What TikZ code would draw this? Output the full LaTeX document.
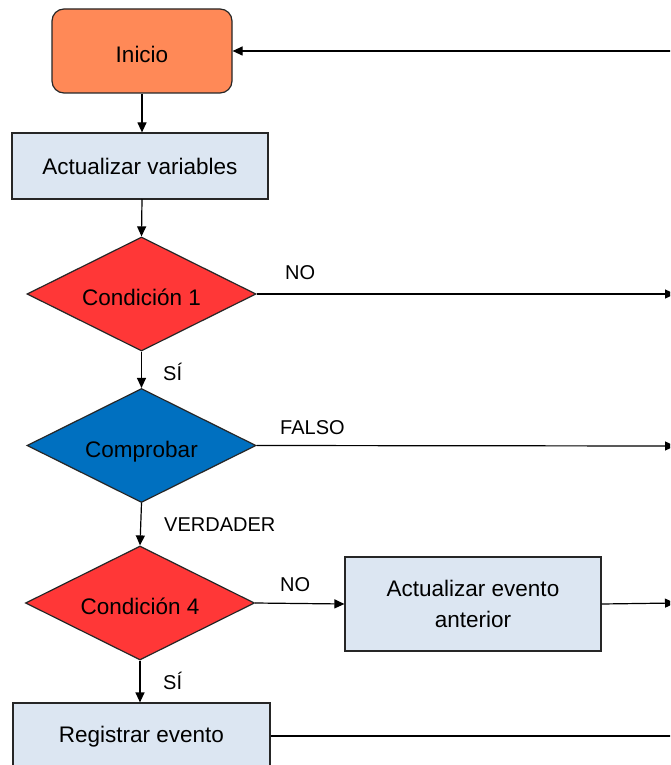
\documentclass[tikz,border=0pt]{standalone}
\usepackage{fontspec}
\setmainfont{Liberation Sans}
\usetikzlibrary{shapes.geometric,arrows.meta}
\definecolor{orangefill}{HTML}{FF8957}
\definecolor{bluebox}{HTML}{DCE6F2}
\definecolor{redfill}{HTML}{FF3737}
\definecolor{bluefill}{HTML}{0070C0}
\tikzset{
  nodetext/.style={font=\fontsize{22.5}{27}\selectfont, text=black},
  shifted/.style={text height=28pt, text depth=5pt},
  lbl/.style={font=\fontsize{20}{24}\selectfont, text=black, inner sep=0pt},
  startbox/.style={nodetext, shifted, draw=black!85, line width=1.2pt, fill=orangefill, rounded corners=12pt, minimum width=180pt, minimum height=84pt},
  procbox/.style={nodetext, draw=black!85, line width=1.2pt, fill=bluebox, minimum width=256pt, inner sep=0pt},
  decision/.style={nodetext, shifted, diamond, draw=black!85, line width=1.2pt, minimum width=229pt, minimum height=114pt, inner sep=0pt, aspect=2},
  conn/.style={line width=1.2pt, -{Triangle[length=10pt,width=9pt]}},
  plain/.style={line width=1.2pt}
}
\begin{document}
\begin{tikzpicture}[x=1pt,y=-1pt]
\clip (0,0) rectangle (670,765);
\fill[white] (0,0) rectangle (670,765);
\node[startbox] (inicio) at (142,51) {Inicio};
\node[procbox, minimum height=66pt] (av) at (140,166) {Actualizar variables};
\node[decision, fill=redfill] (c1) at (141.5,294) {Condición 1};
\node[decision, fill=bluefill] (comp) at (141.5,445.5) {Comprobar};
\node[decision, fill=redfill] (c4) at (140,603) {Condición 4};
\node[procbox, align=center, minimum height=94pt] (aea) at (473,604) {Actualizar evento\\[4pt]anterior};
\node[procbox, minimum width=257pt, minimum height=68pt] (reg) at (141.5,737) {Registrar evento};

\coordinate (rtop) at (680,51);
\coordinate (r1) at (675,294);
\coordinate (r2) at (675,446);
\coordinate (r3) at (675,603);
\coordinate (r4) at (680,736);

\draw[conn] (inicio.south) -- (inicio.south |- av.north);
\draw[conn] (142,199) -- (c1.north);
\draw[conn] (c1.south) -- (comp.north);
\draw[conn] (comp.south) -- (c4.north);
\draw[conn] (c4.south) -- (c4.south |- reg.north);
\draw[conn] (c1.east) -- (r1);
\draw[conn] (comp.east) -- (r2);
\draw[conn] (c4.east) -- (aea.west);
\draw[conn] (aea.east) -- (r3);
\draw[plain] (reg.east |- r4) -- (r4);
\draw[conn] (rtop) -- (inicio.east);

\node[lbl, anchor=west] (no1) at (285,273) {NO};
\node[lbl, anchor=west] (si1) at (163,372) {SÍ};
\node[lbl, anchor=west] (falso) at (280,428) {FALSO};
\node[lbl, anchor=west] (verd) at (164,525) {VERDADER};
\node[lbl, anchor=west] (no4) at (280,585) {NO};
\node[lbl, anchor=west] (si4) at (163,681) {SÍ};
\end{tikzpicture}
\end{document}
